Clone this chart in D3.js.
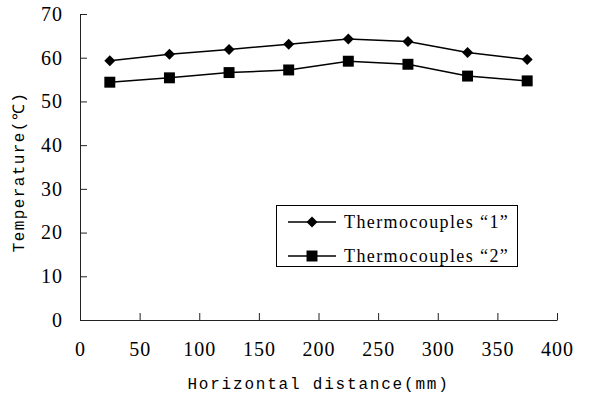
<!DOCTYPE html>
<html>
<head>
<meta charset="utf-8">
<script src="https://cdn.jsdelivr.net/npm/d3@7"></script>
<style>
  body { margin: 0; background: #fff; }
  svg { display: block; }
</style>
</head>
<body>
<svg id="chart"></svg>
<script>
const distances = [25, 75, 125, 175, 225, 275, 325, 375]
const thermo1 = [59.3, 60.8, 61.9, 63.1, 64.3, 63.7, 61.2, 59.6]
const thermo2 = [54.4, 55.4, 56.6, 57.2, 59.2, 58.5, 55.8, 54.7]
const seriesNames = ['Thermocouples \u201c1\u201d', 'Thermocouples \u201c2\u201d']
const xTicks = [0, 50, 100, 150, 200, 250, 300, 350, 400]
const yTicks = [0, 10, 20, 30, 40, 50, 60, 70]

const width = 596
const height = 398

const svg = d3.select('#chart')
  .attr('width', width)
  .attr('height', height)

const xScale = d3.scaleLinear().domain([0, 400]).range([80, 557])
const yScale = d3.scaleLinear().domain([0, 70]).range([320, 14])

const numFont = '"Liberation Serif", "Times New Roman", serif'
const monoFont = '"Liberation Mono", "Courier New", monospace'

// diamond that is as wide as it is tall
const diamond = {
  draw(ctx, size) {
    const r = Math.sqrt(size / 2)
    ctx.moveTo(0, -r)
    ctx.lineTo(r, 0)
    ctx.lineTo(0, r)
    ctx.lineTo(-r, 0)
    ctx.closePath()
  }
}

function styleAxis(g) {
  g.select('.domain').attr('stroke', '#222')
  g.selectAll('.tick line').attr('stroke', '#222')
  g.selectAll('text')
    .style('fill', '#000')
    .style('font-family', numFont)
    .style('font-size', '20px')
    .style('letter-spacing', '1px')
}

// x axis, ticks pointing up into the plot
svg.append('g')
  .attr('transform', 'translate(0,320)')
  .call(d3.axisBottom(xScale).tickValues(xTicks).tickSizeInner(-7).tickSizeOuter(0).tickPadding(22))
  .call(styleAxis)

// y axis, ticks pointing right
svg.append('g')
  .attr('transform', 'translate(80,0)')
  .call(d3.axisLeft(yScale).tickValues(yTicks).tickSizeInner(-7).tickSizeOuter(0).tickPadding(17))
  .call(styleAxis)

svg.append('text')
  .attr('x', (xScale(0) + xScale(400)) / 2)
  .attr('y', 389)
  .attr('text-anchor', 'middle')
  .style('font-family', monoFont)
  .style('font-size', '16px')
  .style('letter-spacing', '1.8px')
  .text('Horizontal distance(mm)')

svg.append('text')
  .attr('transform', 'translate(24,172) rotate(-90)')
  .attr('text-anchor', 'middle')
  .style('font-family', monoFont)
  .style('font-size', '16px')
  .style('letter-spacing', '1.4px')
  .text('Temperature(\u2103)')

const series = [thermo1, thermo2].map((vals, i) => ({
  name: seriesNames[i],
  symbol: i === 0 ? diamond : d3.symbolSquare,
  size: i === 0 ? 60 : 120,
  points: vals.map((v, j) => ({ x: distances[j], y: v }))
}))

const line = d3.line().x(d => xScale(d.x)).y(d => yScale(d.y))

series.forEach(s => {
  svg.append('path')
    .datum(s.points)
    .attr('fill', 'none')
    .attr('stroke', '#000')
    .attr('stroke-width', 1.5)
    .attr('d', line)

  svg.selectAll(null)
    .data(s.points)
    .enter().append('path')
    .attr('transform', d => `translate(${xScale(d.x)},${yScale(d.y)})`)
    .attr('d', d3.symbol().type(s.symbol).size(s.size))
    .attr('fill', '#000')
})

// legend
const legend = svg.append('g')
legend.append('rect')
  .attr('x', 276.5).attr('y', 205.5)
  .attr('width', 241).attr('height', 61)
  .attr('fill', '#fff').attr('stroke', '#000')

series.forEach((s, i) => {
  const y = 222 + i * 34
  legend.append('line')
    .attr('x1', 288).attr('x2', 336)
    .attr('y1', y).attr('y2', y)
    .attr('stroke', '#000').attr('stroke-width', 1.5)
  legend.append('path')
    .attr('transform', `translate(312,${y})`)
    .attr('d', d3.symbol().type(s.symbol).size(s.size))
    .attr('fill', '#000')
  legend.append('text')
    .attr('x', 344).attr('y', y + 6)
    .style('font-family', numFont)
    .style('font-size', '18px')
    .style('letter-spacing', '1.4px')
    .text(s.name)
})
</script>
</body>
</html>
